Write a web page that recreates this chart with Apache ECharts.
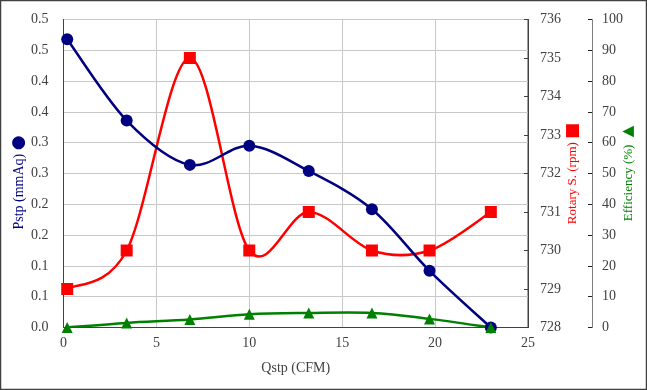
<!DOCTYPE html>
<html>
<head>
<meta charset="utf-8">
<script src="https://cdn.jsdelivr.net/npm/echarts@6/dist/echarts.min.js"></script>
<style>
html,body{margin:0;padding:0;background:#fff;}
#chart{width:647px;height:390px;}
</style>
</head>
<body>
<div id="chart"></div>
<script>
// Data
var qstp = [0.2, 3.4, 6.8, 10.0, 13.2, 16.6, 19.7, 23.0];
var pstp = [0.468, 0.336, 0.264, 0.295, 0.254, 0.192, 0.092, 0.0];
var rotary = [729, 730, 735, 730, 731, 730, 730, 731];
var efficiency = [0, 1.5, 2.6, 4.3, 4.7, 4.7, 2.8, 0];
var pstpTickLabels = ['0.0','0.1','0.1','0.2','0.2','0.3','0.3','0.4','0.4','0.5','0.5'];
var xTicks = [0, 5, 10, 15, 20, 25];

function pairs(xs, ys){ return xs.map(function(x,i){ return [x, ys[i]]; }); }

// Excel-like smoothed line (Catmull-Rom bezier) drawn through the axes' scales
function smoothCurve(xs, ys, axisIndex, color){
  return {
    type: 'custom', yAxisIndex: axisIndex, data: pairs(xs, ys), z: 2, silent: true,
    clip: true,
    renderItem: function(params, api){
      var i = params.dataIndex;
      if (i >= xs.length - 1) return null;
      var P = function(k){ k = Math.max(0, Math.min(xs.length - 1, k)); return api.coord([xs[k], ys[k]]); };
      var p0 = P(i - 1), p1 = P(i), p2 = P(i + 1), p3 = P(i + 2);
      var t = 6;
      return {
        type: 'bezierCurve',
        shape: {
          x1: p1[0], y1: p1[1], x2: p2[0], y2: p2[1],
          cpx1: p1[0] + (p2[0] - p0[0]) / t, cpy1: p1[1] + (p2[1] - p0[1]) / t,
          cpx2: p2[0] - (p3[0] - p1[0]) / t, cpy2: p2[1] - (p3[1] - p1[1]) / t
        },
        style: {stroke: color, lineWidth: 2.5, fill: null}
      };
    }
  };
}

var FONT = '"Liberation Serif", "Times New Roman", serif';
var chart = echarts.init(document.getElementById('chart'));
chart.setOption({
  animation: false,
  backgroundColor: '#fff',
  graphic: [{
    type: 'rect', shape: {x: 0.5, y: 0.5, width: 646, height: 389},
    style: {fill: 'none', stroke: '#404040', lineWidth: 1.5}, silent: true
  }],
  grid: {left: 63.5, right: 119, top: 19.5, bottom: 62.5, outerBoundsMode: 'none', containLabel: false,
    show: true, borderColor: '#404040', borderWidth: 1, backgroundColor: 'transparent'},
  xAxis: {
    type: 'value', min: 0, max: 25, interval: 5,
    name: 'Qstp (CFM)', nameLocation: 'middle', nameGap: 34, nameMoveOverlap: false,
    nameTextStyle: {fontFamily: FONT, fontSize: 14, color: '#404040'},
    axisLine: {show: true, lineStyle: {color: '#404040', width: 1}},
    axisTick: {show: false},
    axisLabel: {fontFamily: FONT, fontSize: 14, color: '#404040', margin: 9,
      formatter: function(v){ return xTicks.indexOf(v) >= 0 ? String(v) : ''; }},
    splitLine: {show: true, lineStyle: {color: '#c8c8c8', width: 1}}
  },
  yAxis: [{
    type: 'value', min: 0, max: 0.5, interval: 0.05, position: 'left',
    name: '{t|Pstp (mmAq)} {c|●}', nameLocation: 'middle', nameGap: 36, nameRotate: 90, nameMoveOverlap: false,
    nameTextStyle: {fontFamily: FONT, fontSize: 14, color: '#000080',
      rich: {t: {fontFamily: FONT, fontSize: 14, color: '#000080'},
             c: {fontFamily: 'DejaVu Sans', fontSize: 17, color: '#000080', padding: [0, 18, 0, 0]}}},
    axisLine: {show: true, lineStyle: {color: '#404040', width: 1}},
    axisTick: {show: false},
    axisLabel: {fontFamily: FONT, fontSize: 14, color: '#404040', margin: 15,
      formatter: function(v){ return pstpTickLabels[Math.round(v / 0.05)]; }},
    splitLine: {show: true, lineStyle: {color: '#c8c8c8', width: 1}}
  }, {
    type: 'value', min: 728, max: 736, interval: 1, position: 'right',
    name: '{t|Rotary S. (rpm)} {c|■}', nameLocation: 'middle', nameGap: 36, nameRotate: 90, nameMoveOverlap: false,
    nameTextStyle: {fontFamily: FONT, fontSize: 13, color: '#ff0000',
      rich: {t: {fontFamily: FONT, fontSize: 13, color: '#ff0000'}, c: {fontFamily: 'DejaVu Sans', fontSize: 17, color: '#ff0000'}}},
    axisLine: {show: true, lineStyle: {color: '#404040', width: 1}},
    axisTick: {show: true, inside: true, length: 4, lineStyle: {color: '#404040'}},
    axisLabel: {fontFamily: FONT, fontSize: 14, color: '#404040', margin: 12},
    splitLine: {show: false}
  }, {
    type: 'value', min: 0, max: 100, interval: 10, position: 'right', offset: 64,
    name: '{t|Efficiency (%)} {c|▲}', nameLocation: 'middle', nameGap: 29, nameRotate: 90, nameMoveOverlap: false,
    nameTextStyle: {fontFamily: FONT, fontSize: 13, color: '#008000',
      rich: {t: {fontFamily: FONT, fontSize: 13, color: '#008000'},
             c: {fontFamily: 'DejaVu Sans', fontSize: 15, color: '#008000', padding: [0, 0, 0, 4]}}},
    axisLine: {show: true, lineStyle: {color: '#808080', width: 1}},
    axisTick: {show: true, inside: true, length: 4, lineStyle: {color: '#202020'}},
    axisLabel: {fontFamily: FONT, fontSize: 14, color: '#404040', margin: 10},
    splitLine: {show: false}
  }],
  series: [
    smoothCurve(qstp, rotary, 1, '#ff0000'),
    smoothCurve(qstp, pstp, 0, '#000080'),
    smoothCurve(qstp, efficiency, 2, '#008000'),
  {
    name: 'Rotary', type: 'line', yAxisIndex: 1, data: pairs(qstp, rotary),
    symbol: 'rect', symbolSize: 12, lineStyle: {width: 0, opacity: 0},
    itemStyle: {color: '#ff0000'}, z: 5
  }, {
    name: 'Pstp', type: 'line', yAxisIndex: 0, data: pairs(qstp, pstp),
    symbol: 'circle', symbolSize: 12, lineStyle: {width: 0, opacity: 0},
    itemStyle: {color: '#000080'}, z: 6
  }, {
    name: 'Efficiency', type: 'line', yAxisIndex: 2, data: pairs(qstp, efficiency),
    symbol: 'triangle', symbolSize: 11, lineStyle: {width: 0, opacity: 0},
    itemStyle: {color: '#008000'}, z: 7
  }]
});
</script>
</body>
</html>
